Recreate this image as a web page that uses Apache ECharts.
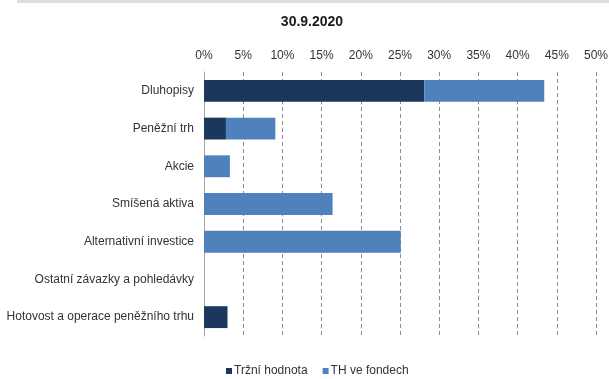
<!DOCTYPE html>
<html>
<head>
<meta charset="utf-8">
<script src="https://cdn.jsdelivr.net/npm/echarts@6/dist/echarts.min.js"></script>
<style>
  html, body { margin: 0; padding: 0; background: #fff; }
  #band { position: absolute; left: 17px; top: 0; width: 592px; height: 3px; background: #d8dfe3; }
  #chart { width: 609px; height: 379px; }
</style>
</head>
<body>
<div id="band"></div>
<div id="chart"></div>
<script>
// Asset allocation of funds as of 30.9.2020 (share in %)
const titleText = '30.9.2020';
const categories = [
  'Dluhopisy',
  'Peněžní trh',
  'Akcie',
  'Smíšená aktiva',
  'Alternativní investice',
  'Ostatní závazky a pohledávky',
  'Hotovost a operace peněžního trhu'
];
const seriesNames = ['Tržní hodnota', 'TH ve fondech'];
const marketValue = [28.1, 2.8, 0, 0, 0, 0, 3.0];
const valueInFunds = [15.3, 6.3, 3.3, 16.4, 25.1, 0, 0];

const FONT = '"Liberation Sans", Arial, sans-serif';
const chart = echarts.init(document.getElementById('chart'), null, { renderer: 'canvas' });

chart.setOption({
  animation: false,
  textStyle: { fontFamily: FONT },
  title: {
    text: titleText,
    left: 307,
    textAlign: 'center',
    top: 10,
    textStyle: { fontFamily: FONT, fontSize: 14, fontWeight: 'bold', color: '#1a1a1a' }
  },
  legend: {
    data: seriesNames,
    bottom: -3,
    left: 221,
    itemWidth: 6,
    itemHeight: 6,
    itemGap: 15,
    icon: 'rect',
    textStyle: { fontFamily: FONT, fontSize: 12, color: '#333', padding: [0, 0, 0, -3] }
  },
  grid: { left: 204, right: 13, top: 72, bottom: 43, containLabel: false, outerBoundsMode: 'none' },
  xAxis: {
    type: 'value',
    position: 'top',
    min: 0,
    max: 50,
    interval: 5,
    axisLine: { show: false },
    axisTick: { show: false },
    axisLabel: {
      formatter: '{value}%',
      fontFamily: FONT,
      fontSize: 12,
      color: '#333',
      margin: 10
    },
    splitLine: { show: true, lineStyle: { color: '#8c8c8c', type: [4, 3], width: 1 } }
  },
  yAxis: {
    type: 'category',
    data: categories,
    inverse: true,
    axisLine: { show: true, lineStyle: { color: '#a6a6a6', width: 1 } },
    axisTick: { show: false },
    axisLabel: { fontFamily: FONT, fontSize: 12, color: '#333', margin: 10 }
  },
  series: [
    {
      name: seriesNames[0],
      type: 'bar',
      stack: 'total',
      barWidth: '58%',
      itemStyle: { color: '#1b375d' },
      data: marketValue
    },
    {
      name: seriesNames[1],
      type: 'bar',
      stack: 'total',
      barWidth: '58%',
      itemStyle: { color: '#4f81bd' },
      data: valueInFunds
    }
  ]
});
</script>
</body>
</html>
